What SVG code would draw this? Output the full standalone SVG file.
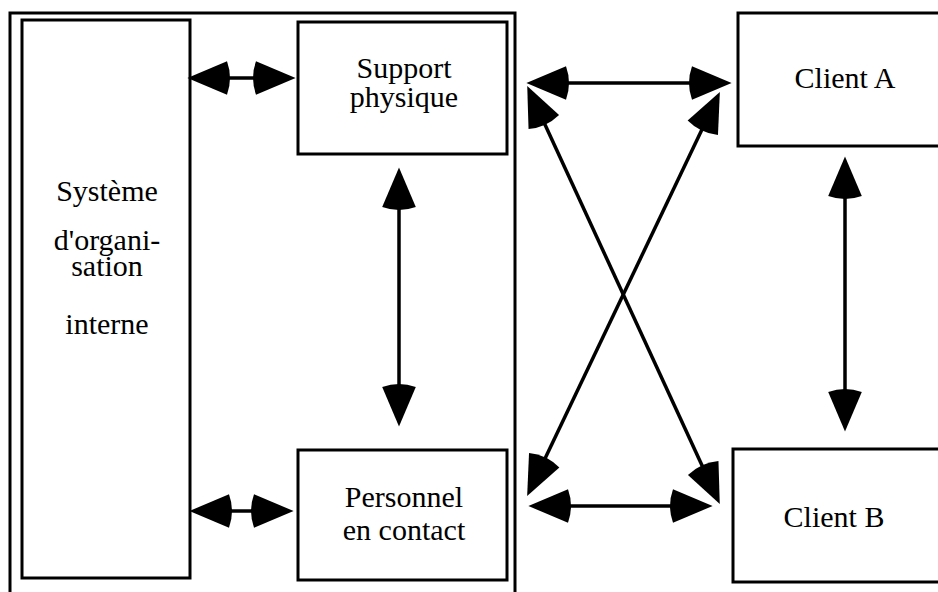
<svg xmlns="http://www.w3.org/2000/svg" width="938" height="592" viewBox="0 0 938 592">
<style>
.box{fill:#fff;stroke:#000;stroke-width:3}
.frame{fill:none;stroke:#000;stroke-width:3}
.lbl{font-family:"Liberation Serif","Times New Roman",serif;font-size:30px;fill:#000;text-anchor:middle}
.arr{stroke:#000;stroke-width:3.5;fill:none;marker-start:url(#head);marker-end:url(#head)}
</style>
<defs>
<marker id="head" markerUnits="userSpaceOnUse" orient="auto-start-reverse" refX="0" refY="0" markerWidth="60" markerHeight="60" viewBox="-10 -20 50 40" overflow="visible">
<path d="M33,0 L0,-14 Q-5,0 0,14 Z" fill="#000"/>
</marker>
</defs>
<rect width="938" height="592" fill="#fff"/>
<rect id="frame" class="frame" x="10" y="13" width="505" height="600"/>
<g id="systeme">
<rect class="box" x="22" y="20" width="168" height="558"/>
<text class="lbl" x="107" y="201">Système</text>
<text class="lbl" x="107" y="250">d'organi-</text>
<text class="lbl" x="107" y="276">sation</text>
<text class="lbl" x="107" y="334">interne</text>
</g>
<g id="support">
<rect class="box" x="298" y="22" width="209" height="132"/>
<text class="lbl" x="404" y="78">Support</text>
<text class="lbl" x="404" y="107">physique</text>
</g>
<g id="personnel">
<rect class="box" x="298" y="450" width="209" height="130"/>
<text class="lbl" x="404" y="507">Personnel</text>
<text class="lbl" x="404" y="540">en contact</text>
</g>
<g id="clientA">
<rect class="box" x="738" y="13" width="210" height="133"/>
<text class="lbl" x="845" y="88">Client A</text>
</g>
<g id="clientB">
<rect class="box" x="733" y="449" width="215" height="133"/>
<text class="lbl" x="834" y="527">Client B</text>
</g>
<g id="connectors">
<line class="arr" x1="227" y1="78" x2="256" y2="78"/>
<line class="arr" x1="229" y1="511" x2="254" y2="511"/>
<line class="arr" x1="399" y1="207" x2="399" y2="387"/>
<line class="arr" x1="566" y1="83" x2="692" y2="83"/>
<line class="arr" x1="568" y1="506" x2="673" y2="506"/>
<line class="arr" x1="845" y1="196" x2="845" y2="392"/>
<line class="arr" x1="543.8" y1="122" x2="703.2" y2="468"/>
<line class="arr" x1="702.8" y1="127.8" x2="544.2" y2="460.2"/>
</g>
</svg>
